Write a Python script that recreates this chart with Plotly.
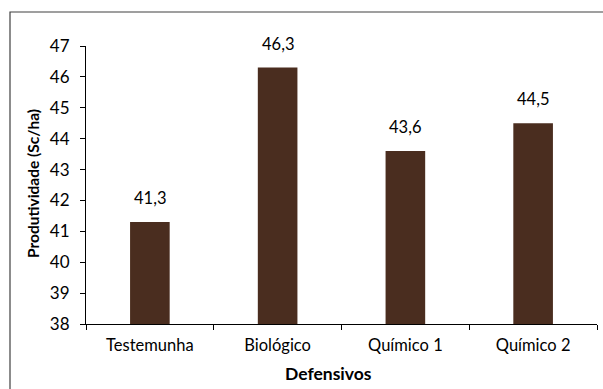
import plotly.graph_objects as go

categories = ["Testemunha", "Biológico", "Químico 1", "Químico 2"]
values = [41.3, 46.3, 43.6, 44.5]
y_ticks = list(range(38, 48))

bar_color = "#4a2d1f"
font_family = "Lato, 'Open Sans', sans-serif"

L, R, T, B = 86, 6, 46, 65
W, H = 603, 389
PW, PH = W - L - R, H - T - B


def px_x(x):
    return (x - L) / PW


def px_y(y):
    return (H - B - y) / PH


fig = go.Figure()
fig.add_trace(go.Bar(
    x=categories, y=values, width=0.31,
    marker=dict(color=bar_color, line=dict(width=0)),
    hoverinfo="skip",
))

for c, v in zip(categories, values):
    fig.add_annotation(
        x=c, y=v, text=f"{v:.1f}".replace(".", ","), showarrow=False,
        yanchor="bottom", yshift=12, font=dict(size=16.5, color="#000000", family=font_family),
    )

fig.add_annotation(
    x=px_x(328), y=px_y(373), xref="paper", yref="paper", text="<b>Defensivos</b>",
    showarrow=False, yanchor="middle", xanchor="center",
    font=dict(size=17.5, color="#000000", family=font_family),
)

fig.add_annotation(
    x=px_x(33), y=px_y(184), xref="paper", yref="paper", text="<b>Produtividade (Sc/ha)</b>",
    showarrow=False, yanchor="middle", xanchor="center", textangle=-90,
    font=dict(size=15.5, color="#000000", family=font_family),
)

# chart border (left and top visible, right/bottom beyond the image)
fig.add_shape(type="rect", xref="paper", yref="paper",
              x0=px_x(10), x1=px_x(608),
              y0=px_y(394), y1=px_y(12),
              line=dict(color="#404040", width=1.2), fillcolor="rgba(0,0,0,0)", layer="below")

fig.update_layout(
    width=W, height=H,
    margin=dict(l=L, r=R, t=T, b=B),
    paper_bgcolor="white", plot_bgcolor="white",
    showlegend=False,
    font=dict(family=font_family, size=16.5, color="#000000"),
    xaxis=dict(
        showline=True, linecolor="#000000", linewidth=1.2,
        ticks="outside", ticklen=5, tickcolor="#000000", tickson="boundaries",
        tickfont=dict(size=16.5), showgrid=False, ticklabelstandoff=6,
    ),
    yaxis=dict(
        range=[38, 47], tickvals=y_ticks,
        showline=True, linecolor="#000000", linewidth=1.2,
        ticks="outside", ticklen=5, tickcolor="#000000",
        tickfont=dict(size=17), showgrid=False, zeroline=False, ticklabelstandoff=7,
    ),
)

fig.write_html("out.html", config={"displayModeBar": False},
               post_script="document.body.style.margin='0';")
